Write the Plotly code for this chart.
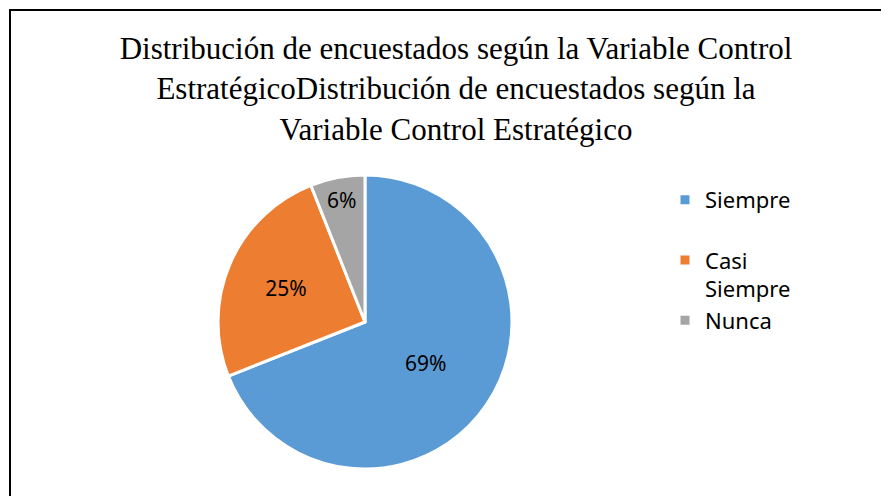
import plotly.graph_objects as go

labels = ['Siempre<br> ', 'Casi<br>Siempre', 'Nunca']
values = [69, 25, 6]
colors = ['#5B9BD5', '#ED7D31', '#A5A5A5']

# the page body adds 8px of margin, so the figure is drawn 8px in
W, H = 881, 488
OFF = 8

fig = go.Figure(data=[go.Pie(
    labels=labels,
    values=values,
    sort=False,
    direction='clockwise',
    rotation=0,
    marker=dict(colors=colors, line=dict(color='white', width=3)),
    texttemplate='%{percent:.0%}',
    textposition='inside',
    insidetextorientation='horizontal',
    textfont=dict(family='Noto Sans', size=21, color='black'),
    domain=dict(x=[(218 - OFF) / W, (512 - OFF) / W],
                y=[1 - (469 - OFF) / H, 1 - (175 - OFF) / H]),
    hoverinfo='label+percent',
)])

fig.update_layout(
    width=W,
    height=H,
    margin=dict(l=0, r=0, t=0, b=0),
    paper_bgcolor='white',
    title=dict(
        text='Distribución de encuestados según la Variable Control<br>'
             'EstratégicoDistribución de encuestados según la<br>'
             'Variable Control Estratégico',
        x=(456 - OFF) / W, xanchor='center',
        y=1 - 51 / H, yanchor='top',
        font=dict(family='Liberation Serif', size=31, color='black'),
    ),
    legend=dict(
        x=(665 - OFF) / W, xanchor='left',
        y=1 - (179 - OFF) / H, yanchor='top',
        valign='top',
        font=dict(family='Noto Sans', size=22, color='black'),
    ),
    shapes=[dict(
        type='rect', xref='paper', yref='paper',
        x0=2 / W, x1=1.05, y0=-0.05, y1=1 - 2 / H,
        line=dict(color='black', width=2),
    )],
)

fig.write_html("out.html")
